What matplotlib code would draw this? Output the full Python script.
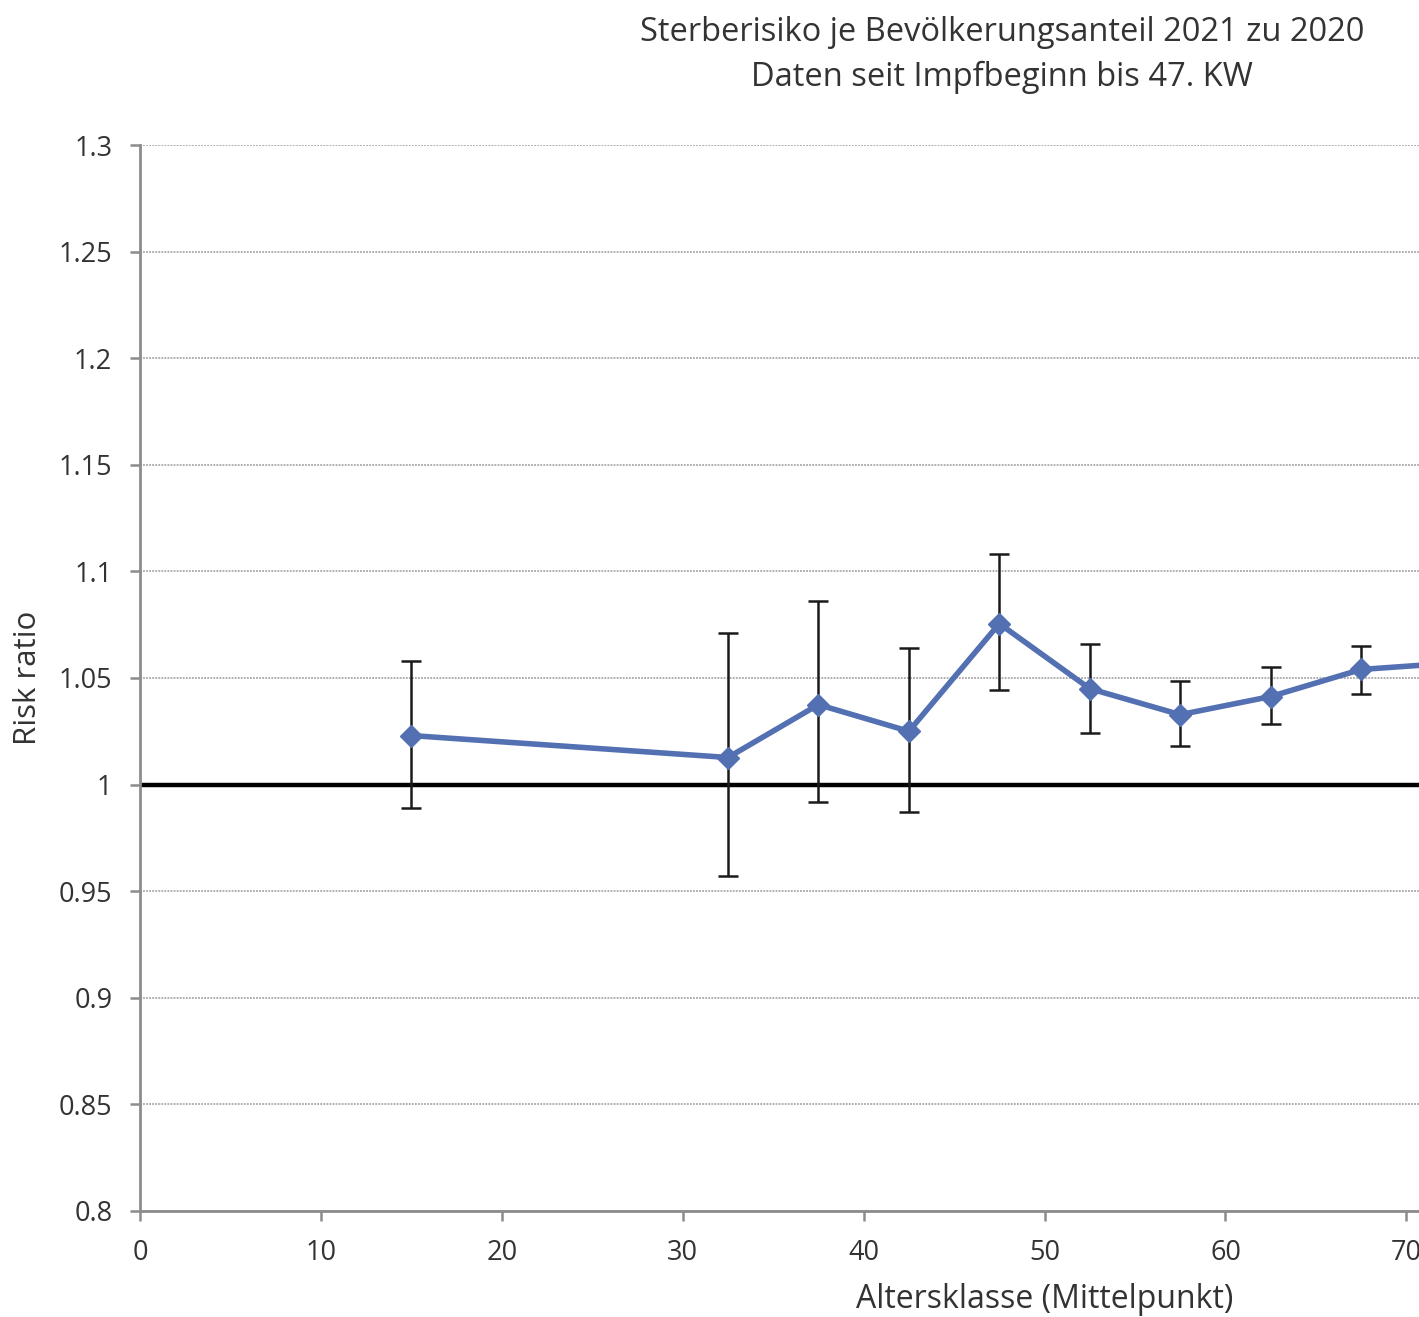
import matplotlib
matplotlib.use("Agg")
import matplotlib.pyplot as plt

plt.rcParams["font.family"] = ["Open Sans", "DejaVu Sans"]

# Alterklassen-Mittelpunkte und Risk ratio mit Konfidenzgrenzen
age_mid = [15, 32.5, 37.5, 42.5, 47.5, 52.5, 57.5, 62.5, 67.5, 72.5]
risk_ratio = [1.023, 1.0127, 1.0375, 1.025, 1.0755, 1.045, 1.0328, 1.0413, 1.054, 1.057]
ci_upper = [1.058, 1.071, 1.086, 1.064, 1.108, 1.066, 1.0488, 1.0553, 1.065, 1.068]
ci_lower = [0.989, 0.957, 0.992, 0.987, 1.0446, 1.0244, 1.018, 1.0286, 1.0427, 1.046]

y_ticks = [0.8, 0.85, 0.9, 0.95, 1, 1.05, 1.1, 1.15, 1.2, 1.25, 1.3]
y_tick_labels = ["0.8", "0.85", "0.9", "0.95", "1", "1.05", "1.1", "1.15", "1.2", "1.25", "1.3"]
x_ticks = [0, 10, 20, 30, 40, 50, 60, 70]

LINE_BLUE = "#5370b2"
AXIS_GREY = "#8c8c8c"
TEXT_COL = "#333333"

fig = plt.figure(figsize=(14.19, 13.17), dpi=100)
ax = fig.add_axes([0.0987, 0.0805, 0.9013, 0.8094])

err_lo = [r - lo for r, lo in zip(risk_ratio, ci_lower)]
err_hi = [hi - r for r, hi in zip(risk_ratio, ci_upper)]

# Referenzlinie bei 1
ax.axhline(1.0, color="black", linewidth=3.2, zorder=2)

ax.errorbar(age_mid, risk_ratio, yerr=[err_lo, err_hi], fmt="none",
            ecolor="#1a1a1a", elinewidth=1.8, capsize=7, capthick=1.8, zorder=3)
ax.plot(age_mid, risk_ratio, color=LINE_BLUE, linewidth=4.0, marker="D",
        markersize=11, markerfacecolor=LINE_BLUE, markeredgecolor=LINE_BLUE, zorder=4)

ax.set_xlim(0, 70.7)
ax.set_ylim(0.8, 1.3)
ax.set_yticks(y_ticks)
ax.set_yticklabels(y_tick_labels)
ax.set_xticks(x_ticks)

ax.yaxis.grid(True, color="#999999", linestyle=(0, (1.2, 0.8)), linewidth=1.1)
ax.set_axisbelow(True)

for side in ("top", "right"):
    ax.spines[side].set_visible(False)
for side in ("left", "bottom"):
    ax.spines[side].set_color(AXIS_GREY)
    ax.spines[side].set_linewidth(2.0)

ax.tick_params(axis="both", colors=AXIS_GREY, width=1.8, length=7,
               labelsize=19.5, labelcolor=TEXT_COL)
ax.tick_params(axis="y", pad=13)
ax.tick_params(axis="x", pad=13)

ax.set_xlabel("Altersklasse (Mittelpunkt)", fontsize=23, color=TEXT_COL)
ax.xaxis.set_label_coords(50 / 70.7, -0.0835)
ax.xaxis.label.set_va("center")
ax.set_ylabel("Risk ratio", fontsize=22.5, color=TEXT_COL)
ax.yaxis.set_label_coords(-0.0876, 0.5)
ax.yaxis.label.set_va("center")

fig.text(0.706, 0.975, "Sterberisiko je Bevölkerungsanteil 2021 zu 2020",
         ha="center", va="center", fontsize=23.5, color=TEXT_COL)
fig.text(0.706, 0.941, "Daten seit Impfbeginn bis 47. KW",
         ha="center", va="center", fontsize=23.5, color=TEXT_COL)

fig.savefig("out.png", dpi=100)
